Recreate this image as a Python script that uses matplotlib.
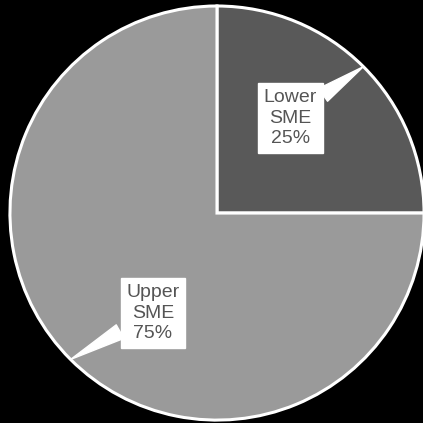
import numpy as np
import matplotlib
matplotlib.use("Agg")
import matplotlib.pyplot as plt

categories = ["Lower\nSME", "Upper\nSME"]
values = [25, 75]
colors = ["#595959", "#9a9a9a"]
# label box centres (data units, pie radius = 1)
label_pos = [(0.353, 0.459), (-0.309, -0.483)]

fig = plt.figure(figsize=(4.23, 4.23), dpi=100, facecolor="black")
ax = fig.add_axes([0, 0, 1, 1])
ax.set_facecolor("black")
wedges, _ = ax.pie(values, colors=colors, startangle=90, counterclock=False,
                   radius=1, wedgeprops=dict(edgecolor="white", linewidth=2.2))
ax.set_xlim(-1.048, 0.995)
ax.set_ylim(-1.014, 1.029)
ax.set_aspect("equal")
ax.axis("off")

total = sum(values)
for w, cat, v, pos in zip(wedges, categories, values, label_pos):
    mid = np.deg2rad((w.theta1 + w.theta2) / 2)
    tip = (np.cos(mid), np.sin(mid))
    ax.annotate(f"{cat}\n{round(100 * v / total)}%", xy=tip, xytext=pos,
                ha="center", va="center", fontsize=14, color="#555555",
                family=["Liberation Sans", "DejaVu Sans"], linespacing=1.3,
                bbox=dict(boxstyle="square,pad=0.3", fc="white", ec="white"),
                arrowprops=dict(arrowstyle="wedge,tail_width=0.8", fc="white",
                                ec="white", shrinkA=0, shrinkB=0))

fig.savefig("out.png", dpi=100, facecolor="black")
